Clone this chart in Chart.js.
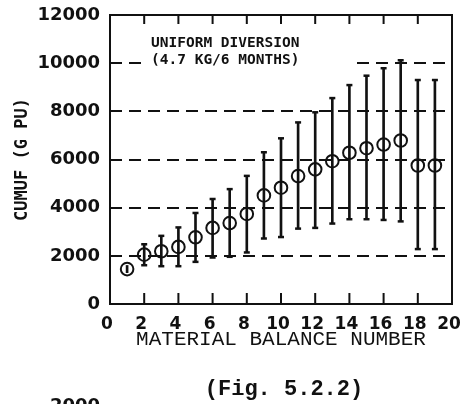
<!DOCTYPE html>
<html>
<head>
<meta charset="utf-8">
<script src="https://cdn.jsdelivr.net/npm/chart.js@4.4.1/dist/chart.umd.min.js"></script>
<style>
  html, body { margin: 0; padding: 0; background: #ffffff; }
  canvas { display: block; }
</style>
</head>
<body>
<canvas id="c" width="470" height="404"></canvas>
<script>
// ---- data ----
const balanceNumbers = [1, 2, 3, 4, 5, 6, 7, 8, 9, 10, 11, 12, 13, 14, 15, 16, 17, 18, 19];
const cumufMean  = [1450, 2050, 2190, 2370, 2770, 3160, 3360, 3740, 4510, 4830, 5310, 5590, 5930, 6280, 6470, 6620, 6790, 5750, 5750];
const cumufUpper = [1600, 2480, 2830, 3180, 3780, 4360, 4770, 5320, 6300, 6880, 7540, 7960, 8550, 9090, 9480, 9790, 10120, 9300, 9300];
const cumufLower = [1300, 1610, 1570, 1570, 1750, 1930, 1960, 2140, 2720, 2780, 3130, 3160, 3340, 3520, 3520, 3490, 3430, 2280, 2280];
const yTickValues = [0, 2000, 4000, 6000, 8000, 10000, 12000];
const xTickValues = [0, 2, 4, 6, 8, 10, 12, 14, 16, 18, 20];
const xTitle = 'MATERIAL BALANCE NUMBER';
const yTitle = 'CUMUF (G PU)';
const noteLines = ['UNIFORM DIVERSION', '(4.7 KG/6 MONTHS)'];
const figCaption = '(Fig. 5.2.2)';
const nextFigLabel = '2000';

const INK = '#111111';
const CAP_MIN = 500; // only draw caps when the bar extends beyond the marker

const barData = balanceNumbers.map((x, i) => ({ x: x, y: [cumufLower[i], cumufUpper[i]] }));
const meanData = balanceNumbers.map((x, i) => ({ x: x, y: cumufMean[i] }));
const capData = [];
balanceNumbers.forEach((x, i) => {
  if (cumufUpper[i] - cumufLower[i] > CAP_MIN) {
    capData.push({ x: x, y: cumufUpper[i] });
    capData.push({ x: x, y: cumufLower[i] });
  }
});

const framePlugin = {
  id: 'frame',
  beforeDatasetsDraw(chart) {
    const ctx = chart.ctx;
    const ys = chart.scales.y;
    // blank the grid line behind the annotation
    const y10 = ys.getPixelForValue(10000);
    ctx.save();
    ctx.fillStyle = '#ffffff';
    ctx.fillRect(143, y10 - 4, 214, 8);
    ctx.restore();
  },
  afterDraw(chart) {
    const ctx = chart.ctx;
    const a = chart.chartArea;
    const xs = chart.scales.x;
    ctx.save();
    ctx.strokeStyle = INK;
    ctx.lineWidth = 2;
    ctx.setLineDash([]);
    ctx.strokeRect(a.left, a.top, a.right - a.left, a.bottom - a.top);
    // inward ticks
    xTickValues.forEach(v => {
      if (v === 0 || v === 20) return;
      const px = xs.getPixelForValue(v);
      ctx.beginPath();
      ctx.moveTo(px, a.bottom); ctx.lineTo(px, a.bottom - 11);
      ctx.moveTo(px, a.top); ctx.lineTo(px, a.top + 9);
      ctx.stroke();
    });
    // annotation
    ctx.fillStyle = INK;
    ctx.font = 'bold 14.5px "DejaVu Sans Mono"';
    ctx.textAlign = 'left';
    ctx.textBaseline = 'middle';
    ctx.fillText(noteLines[0], 151, 43);
    ctx.fillText(noteLines[1], 151, 60);
    // figure caption
    ctx.font = 'bold 22px "Liberation Mono"';
    ctx.textAlign = 'center';
    ctx.fillText(figCaption, 284, 389);
    // label of the next figure, cut by the page edge
    ctx.font = 'bold 18px "DejaVu Sans"';
    ctx.textAlign = 'right';
    ctx.textBaseline = 'top';
    ctx.fillText(nextFigLabel, 100, 397);
    ctx.restore();
  }
};

new Chart(document.getElementById('c'), {
  type: 'scatter',
  data: {
    datasets: [
      {
        type: 'bar',
        data: barData,
        backgroundColor: INK,
        borderWidth: 0,
        barThickness: 2,
        grouped: false,
        order: 3
      },
      {
        type: 'scatter',
        data: capData,
        pointStyle: 'line',
        radius: 3,
        borderWidth: 2.5,
        borderColor: INK,
        order: 2
      },
      {
        type: 'scatter',
        data: meanData,
        pointStyle: 'circle',
        radius: 6.3,
        borderWidth: 2,
        borderColor: INK,
        backgroundColor: 'rgba(0,0,0,0)',
        order: 1
      }
    ]
  },
  options: {
    responsive: false,
    animation: false,
    events: [],
    layout: { padding: { top: 15, right: 18, bottom: 0, left: 0 } },
    plugins: { legend: { display: false }, tooltip: { enabled: false }, title: { display: false } },
    scales: {
      x: {
        type: 'linear',
        min: 0, max: 20,
        offset: false,
        afterBuildTicks: (s) => { s.ticks = xTickValues.map(v => ({ value: v })); },
        afterFit: (s) => { s.height = 100; s.paddingLeft = 0; s.paddingRight = 0; },
        grid: { display: false, drawTicks: false },
        border: { display: false },
        ticks: {
          color: INK,
          padding: 10,
          labelOffset: -3,
          maxRotation: 0,
          autoSkip: false,
          callback: (v) => String(v),
          font: { family: 'DejaVu Sans', weight: 'bold', size: 17 }
        },
        title: {
          display: true,
          text: xTitle,
          color: INK,
          font: { family: 'Liberation Mono', size: 21 },
          padding: { top: 0, bottom: 52 }
        }
      },
      y: {
        min: 0, max: 12000,
        afterBuildTicks: (s) => { s.ticks = yTickValues.map(v => ({ value: v })); },
        afterFit: (s) => { s.width = 110; s.paddingTop = 0; s.paddingBottom = 0; },
        grid: {
          drawTicks: false,
          lineWidth: 2,
          color: (c) => (c.tick && (c.tick.value === 0 || c.tick.value === 12000)) ? 'rgba(0,0,0,0)' : INK
        },
        border: { display: false, dash: [12, 7] },
        ticks: {
          color: INK,
          padding: 10,
          autoSkip: false,
          callback: (v) => String(v),
          font: { family: 'DejaVu Sans', weight: 'bold', size: 18 }
        },
        title: {
          display: true,
          text: yTitle,
          color: INK,
          font: { family: 'DejaVu Sans Mono', weight: 'bold', size: 17 },
          padding: { top: 12, bottom: 0 }
        }
      }
    }
  },
  plugins: [framePlugin]
});
</script>
</body>
</html>
